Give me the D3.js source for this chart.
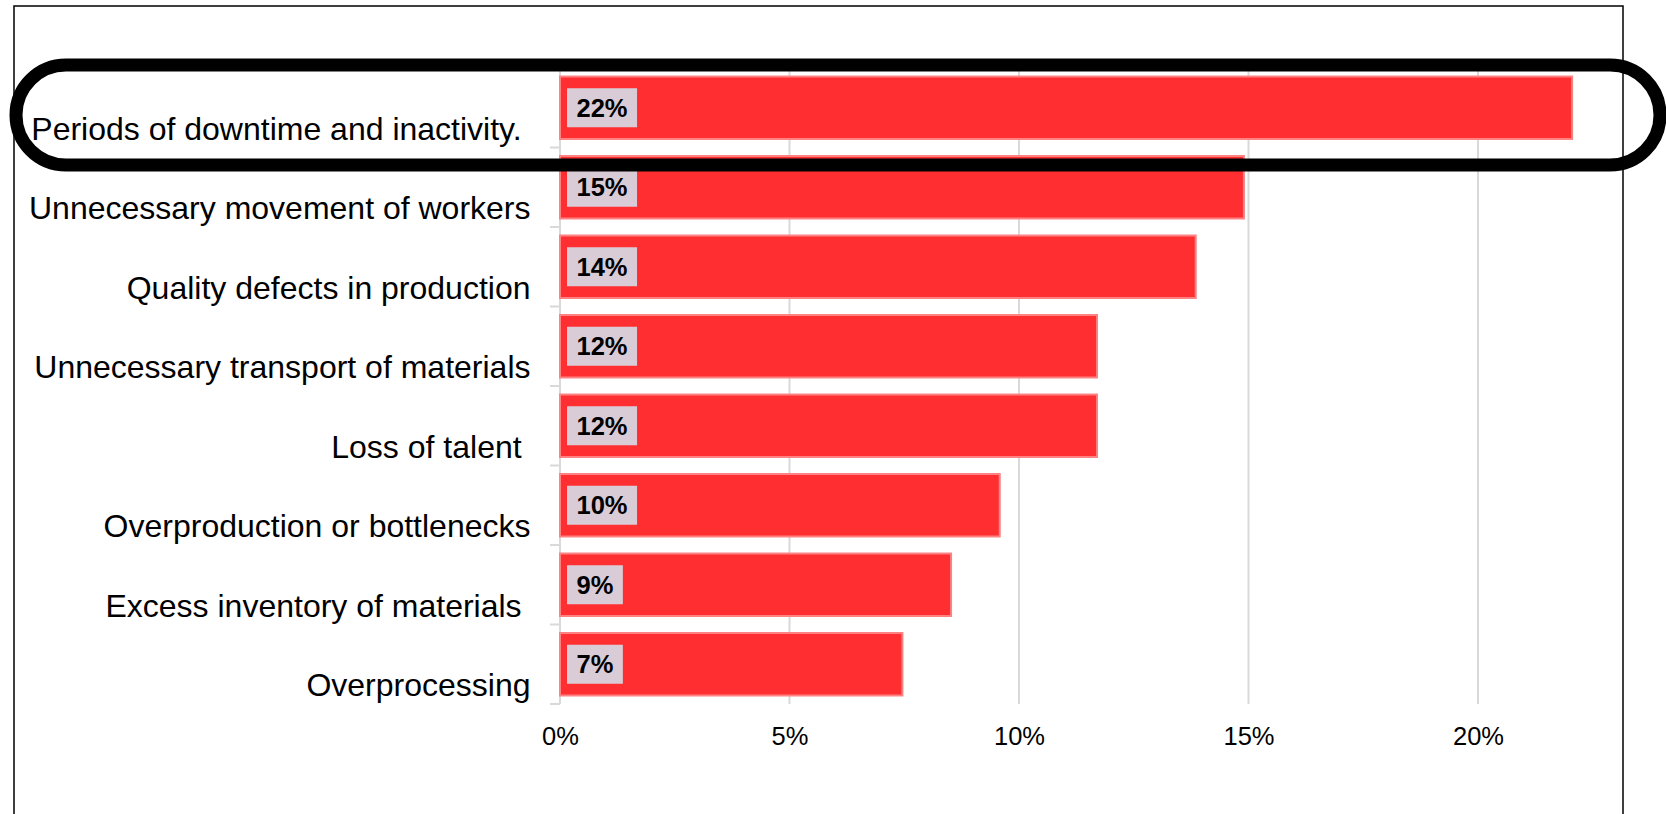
<!DOCTYPE html>
<html>
<head>
<meta charset="utf-8">
<script src="https://cdn.jsdelivr.net/npm/d3@7"></script>
<style>
  html, body { margin: 0; padding: 0; background: #fff; }
  svg { display: block; font-family: "Liberation Sans", Arial, sans-serif; }
  .cat { white-space: pre; }
</style>
</head>
<body>
<div id="chart"></div>
<script>
// Chart data
const categories = [
  "Periods of downtime and inactivity. ",
  "Unnecessary movement of workers",
  "Quality defects in production",
  "Unnecessary transport of materials",
  "Loss of talent ",
  "Overproduction or bottlenecks",
  "Excess inventory of materials ",
  "Overprocessing"
];
const values = [22.05, 14.9, 13.85, 11.7, 11.7, 9.58, 8.52, 7.46];
const xTicks = [0, 5, 10, 15, 20];

const width = 1666,
      height = 814;

const svg = d3.select("#chart")
  .append("svg")
    .attr("width", width)
    .attr("height", height);

// Outer frame (open at the bottom)
svg.append("path")
  .attr("d", "M14,814 V6 H1623 V814")
  .attr("fill", "none")
  .attr("stroke", "#000")
  .attr("stroke-width", 1.5);

// Scales
const x = d3.scaleLinear()
  .domain([0, 20])
  .range([560, 1478]);

const y = d3.scaleBand()
  .domain(categories)
  .range([68, 704])
  .paddingInner(0.214)
  .paddingOuter(0.107);

// Gridlines
svg.append("g")
  .selectAll("line")
  .data(xTicks.slice(1))
  .join("line")
    .attr("x1", d => x(d))
    .attr("x2", d => x(d))
    .attr("y1", 68)
    .attr("y2", 704)
    .attr("stroke", "#d9d9d9")
    .attr("stroke-width", 2);

// Category axis line and boundary ticks
const yAxis = svg.append("g");
yAxis.append("line")
  .attr("x1", x(0)).attr("x2", x(0))
  .attr("y1", 68).attr("y2", 704)
  .attr("stroke", "#d9d9d9")
  .attr("stroke-width", 2);
yAxis.selectAll(".tick")
  .data(d3.range(categories.length + 1))
  .join("line")
    .attr("class", "tick")
    .attr("x1", x(0) - 10)
    .attr("x2", x(0))
    .attr("y1", i => y.range()[0] + i * y.step())
    .attr("y2", i => y.range()[0] + i * y.step())
    .attr("stroke", "#d9d9d9")
    .attr("stroke-width", 2);

// Category labels
svg.append("g")
  .selectAll("text")
  .data(categories)
  .join("text")
    .attr("class", "cat")
    .attr("x", 530.5)
    .attr("y", d => y(d) + y.bandwidth() / 2 + 32)
    .attr("text-anchor", "end")
    .attr("font-size", 32)
    .attr("fill", "#000")
    .text(d => d);

// Value axis labels
const xAxis = svg.append("g")
  .attr("transform", "translate(0,704)")
  .call(d3.axisBottom(x)
    .tickValues(xTicks)
    .tickSize(0)
    .tickPadding(23)
    .tickFormat(d => d + "%"));
xAxis.select(".domain").remove();
xAxis.selectAll("text")
  .attr("font-family", "Liberation Sans, Arial, sans-serif")
  .attr("font-size", 25.5)
  .attr("fill", "#000");

// Bars
svg.append("g")
  .selectAll("rect")
  .data(values)
  .join("rect")
    .attr("x", x(0))
    .attr("y", (d, i) => y(categories[i]))
    .attr("width", d => x(d) - x(0))
    .attr("height", y.bandwidth())
    .attr("fill", "#ff2e31")
    .attr("stroke", "#ff8282")
    .attr("stroke-width", 2);

// Data labels with boxes
const labels = svg.append("g")
  .selectAll("g")
  .data(values)
  .join("g")
    .attr("transform", (d, i) => `translate(567,${y(categories[i]) + y.bandwidth() / 2})`);

labels.append("text")
  .attr("x", 9.5)
  .attr("y", 9.2)
  .attr("font-size", 25.5)
  .attr("font-weight", "bold")
  .attr("fill", "#000")
  .text(d => Math.round(d) + "%");

labels.insert("rect", "text")
  .attr("x", 0)
  .attr("y", -19.5)
  .attr("height", 39)
  .attr("width", function() {
    return this.parentNode.querySelector("text").getComputedTextLength() + 19;
  })
  .attr("fill", "#d9ccd6");

// Highlight around the top category
svg.append("rect")
  .attr("x", 16)
  .attr("y", 65)
  .attr("width", 1644)
  .attr("height", 100)
  .attr("rx", 50)
  .attr("ry", 50)
  .attr("fill", "none")
  .attr("stroke", "#000")
  .attr("stroke-width", 13);
</script>
</body>
</html>
